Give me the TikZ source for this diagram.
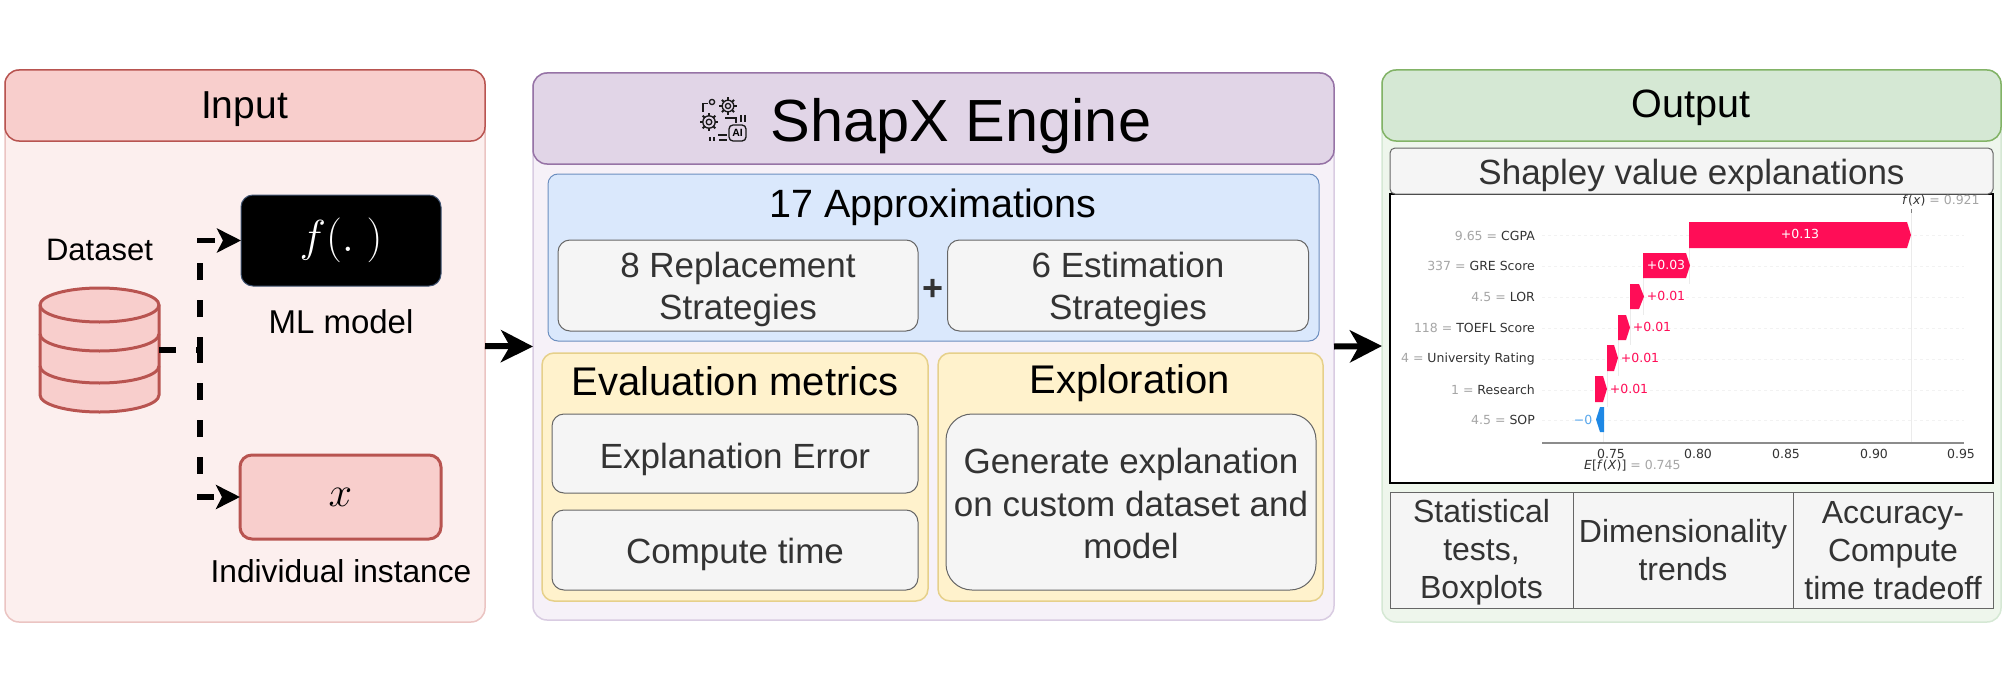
\documentclass[tikz,border=0pt]{standalone}
\usepackage[no-math]{fontspec}
\setmainfont{Liberation Sans}
\newfontfamily\plotfont{DejaVu Sans}
\usetikzlibrary{arrows.meta}
\definecolor{inBody}{HTML}{FCEFEE}
\definecolor{inLine}{HTML}{EBC4C2}
\definecolor{inHead}{HTML}{F8CECC}
\definecolor{inStroke}{HTML}{B85450}
\definecolor{enBody}{HTML}{F6F1F8}
\definecolor{enLine}{HTML}{D9CCE2}
\definecolor{enHead}{HTML}{E1D5E7}
\definecolor{enStroke}{HTML}{9673A6}
\definecolor{blFill}{HTML}{DAE8FC}
\definecolor{blStroke}{HTML}{6C8EBF}
\definecolor{yeFill}{HTML}{FFF2CC}
\definecolor{yeStroke}{HTML}{E6D08A}
\definecolor{grFill}{HTML}{F5F5F5}
\definecolor{grStroke}{HTML}{666666}
\definecolor{ouBody}{HTML}{EEF6EC}
\definecolor{ouLine}{HTML}{D5E8D4}
\definecolor{ouHead}{HTML}{D5E8D4}
\definecolor{ouStroke}{HTML}{82B366}
\definecolor{shapRed}{HTML}{FF0D57}
\definecolor{shapBlue}{HTML}{1E88E5}
\definecolor{txtGray}{HTML}{333333}
\tikzset{
  x=1pt,y=-1pt,
  basebox/.style={rectangle,anchor=north west,inner sep=0pt,outer sep=0pt,align=center,rounded corners=14pt},
  panelin/.style={basebox,draw=inLine,fill=inBody,line width=1.5pt},
  headin/.style={basebox,draw=inStroke,fill=inHead,line width=1.5pt},
  panelen/.style={basebox,draw=enLine,fill=enBody,line width=1.5pt},
  headen/.style={basebox,draw=enStroke,fill=enHead,line width=1.5pt},
  panelou/.style={basebox,draw=ouLine,fill=ouBody,line width=1.5pt},
  headou/.style={basebox,draw=ouStroke,fill=ouHead,line width=1.5pt},
  bluebox/.style={basebox,draw=blStroke,fill=blFill,line width=1pt,rounded corners=10pt},
  yelbox/.style={basebox,draw=yeStroke,fill=yeFill,line width=1.5pt,rounded corners=12pt},
  graybox/.style={basebox,draw=grStroke,fill=grFill,line width=1pt,rounded corners=12pt},
  cell/.style={basebox,rounded corners=0pt,draw=grStroke,fill=grFill,line width=1pt},
  lbl/.style={inner sep=0pt,outer sep=0pt,align=center},
  graytxt/.style={lbl,text=txtGray,font=\fontsize{35}{42}\selectfont},
  celltxt/.style={lbl,text=txtGray,font=\fontsize{32}{38}\selectfont},
  bigarrow/.style={line width=6pt,-{Stealth[length=32pt,width=32pt,inset=9pt]}},
  dasharrow/.style={line width=5.5pt,dash pattern=on 17pt off 20pt,-{Stealth[length=24pt,width=24pt,inset=6pt]}},
  rowlab/.style={inner sep=0pt,anchor=east,font=\plotfont\fontsize{12.5}{15}\selectfont,text=txtGray},
  ticklab/.style={inner sep=0pt,font=\plotfont\fontsize{12.5}{14}\selectfont,text=txtGray},
  val/.style={inner sep=0pt,font=\plotfont\fontsize{12.5}{14}\selectfont},
  icon/.style={draw=black!90,line width=1.3pt},
}
\begin{document}
\begin{tikzpicture}
\useasboundingbox (0,0) rectangle (2004,690);
\fill[white] (0,0) rectangle (2004,690);

% Input panel
\node[panelin,minimum width=480pt,minimum height=552pt] (inp) at (5,70) {};
\node[headin,minimum width=480pt,minimum height=71pt] (inph) at (5,70) {};
\node[lbl,font=\fontsize{39}{46}\selectfont] (inpt) at (244.5,109) {Input};
\node[lbl,font=\fontsize{31}{37}\selectfont] (dslab) at (99.5,250) {Dataset};
\node[rectangle,inner sep=0pt,outer sep=0pt,minimum width=119pt,minimum height=124pt] (db) at (99.5,350) {};
\draw[inStroke,line width=3pt,fill=inHead]
  (40,305) arc[x radius=59.5,y radius=17,start angle=180,end angle=360]
  -- (159,395) arc[x radius=59.5,y radius=17,start angle=0,end angle=180] -- cycle;
\draw[inStroke,line width=3pt] (40,305) arc[x radius=59.5,y radius=17,start angle=180,end angle=0];
\draw[inStroke,line width=3pt] (40,334) arc[x radius=59.5,y radius=17,start angle=180,end angle=0];
\draw[inStroke,line width=3pt] (40,366) arc[x radius=59.5,y radius=17,start angle=180,end angle=0];
\node[basebox,fill=black,draw=blStroke!60!black,line width=1pt,text=white,minimum width=200pt,minimum height=91pt,rounded corners=12pt] (fbox) at (241,195) {\scalebox{1.8}{\Huge $f(.\ )$}};
\node[lbl,font=\fontsize{33}{38}\selectfont] (mllab) at (341,322) {ML model};
\node[basebox,fill=inHead,draw=inStroke,line width=3pt,minimum width=201pt,minimum height=84pt,rounded corners=12pt] (xbox) at (240,455) {\scalebox{1.7}{\Huge $x$}};
\node[lbl,font=\fontsize{31.7}{38}\selectfont] (inslab) at (341,571.5) {Individual instance};
\coordinate (jn) at (200,350);
\draw[dasharrow] (db.east) -- (jn) |- (fbox.west);
\draw[dasharrow] (db.east) -- (jn) |- (xbox.west);

% Engine panel
\node[panelen,minimum width=801pt,minimum height=547pt] (eng) at (533,73) {};
\node[headen,minimum width=801pt,minimum height=91pt] (engh) at (533,73) {};
\node[lbl,anchor=base,font=\fontsize{59.5}{66}\selectfont] (engt) at (961,142) {ShapX Engine};
% icon
\foreach \cx/\cy/\r in {709/122/6.2,728/106/5.8}{
  \draw[icon] (\cx,\cy) circle[radius=\r];
  \draw[icon] (\cx,\cy) circle[radius=\r*0.45];
  \foreach \a in {0,45,...,315}{
    \draw[icon,line width=2pt] ({\cx+\r*cos(\a)},{\cy+\r*sin(\a)}) -- ({\cx+(\r+2.8)*cos(\a)},{\cy+(\r+2.8)*sin(\a)});
  }
}
\draw[icon] (712,102) circle[radius=2.6];
\draw[icon] (703,112) -- (703,103.5) -- (708,103.5);
\draw[icon] (725,118) -- (736,118) -- (736,123);
\draw[icon] (741,115) -- (741,122);
\draw[icon] (745,115) -- (745,122);
\draw[icon,rounded corners=4pt] (729,125) rectangle (746,141);
\node[inner sep=0pt,font=\fontsize{10.5}{10}\selectfont\bfseries] (ailab) at (737.5,133) {AI};
\draw[icon] (710,137) -- (710,141);
\draw[icon] (714,137) -- (714,141);
\draw[icon] (718,135) -- (727,135);
\draw[icon] (719,140) -- (727,140);

\node[bluebox,minimum width=771pt,minimum height=167pt] (blue) at (548,174) {};
\node[lbl,font=\fontsize{39.5}{46}\selectfont] (apx) at (933,207.5) {17 Approximations};
\node[graybox,minimum width=360pt,minimum height=91pt] (rep) at (558,240) {};
\node[graytxt] (rept) at ([yshift=-4pt]rep.center) {8 Replacement\\Strategies};
\node[graybox,minimum width=361pt,minimum height=91pt] (est) at (947.5,240) {};
\node[graytxt] (estt) at ([yshift=-4pt]est.center) {6 Estimation\\Strategies};
\node[lbl,font=\bfseries\fontsize{36}{42}\selectfont,text=txtGray] (plus) at (933,290) {+};
\node[yelbox,minimum width=386pt,minimum height=248pt] (evalb) at (542,353) {};
\node[lbl,font=\fontsize{40}{46}\selectfont] (evalt) at (735,381) {Evaluation metrics};
\node[graybox,minimum width=366pt,minimum height=79pt] (err) at (552,414) {};
\node[graytxt] (errt) at ([yshift=-5.5pt]err.center) {Explanation Error};
\node[graybox,minimum width=366pt,minimum height=80pt] (ctime) at (552,510) {};
\node[graytxt] (ctimet) at ([yshift=-4pt]ctime.center) {Compute time};
\node[yelbox,minimum width=385pt,minimum height=248pt] (expl) at (938,353) {};
\node[lbl,font=\fontsize{40}{46}\selectfont] (explt) at (1130,383) {Exploration};
\node[graybox,minimum width=370pt,minimum height=176pt,rounded corners=26pt] (gen) at (946,414) {};
\node[graytxt,font=\fontsize{35}{42.5}\selectfont] (gent) at ([yshift=-1.5pt]gen.center) {Generate explanation\\on custom dataset and\\model};

% Output panel
\node[panelou,minimum width=619pt,minimum height=552pt] (out) at (1382,70) {};
\node[headou,minimum width=619pt,minimum height=71pt] (outh) at (1382,70) {};
\node[lbl,font=\fontsize{39.5}{46}\selectfont] (outt) at (1691,108) {Output};
\node[basebox,rounded corners=0pt,fill=white,draw=black,line width=1.2pt,minimum width=603pt,minimum height=289pt] (plot) at (1390,194) {};
\node[graybox,rounded corners=5pt,minimum width=603pt,minimum height=46pt] (shap) at (1390,148) {};
\node[graytxt] (shapt) at ([yshift=-4pt]shap.center) {Shapley value explanations};

% waterfall plot
\foreach \yy in {235,266,297,328,359,390,420}{
  \draw[black!5,line width=.8pt,dashed] (1542,\yy) -- (1964,\yy);
}
\draw[black!8,line width=.8pt] (1911,212) -- (1911,443);
\draw[black!8,line width=.8pt] (1603,432) -- (1603,443);
\draw[black!8,line width=.8pt] (1689.5,248) -- (1689.5,284);
\draw[black!8,line width=.8pt] (1643.5,278) -- (1643.5,315);
\draw[black!8,line width=.8pt] (1630,309) -- (1630,345);
\draw[black!8,line width=.8pt] (1618,340) -- (1618,376);
\draw[black!8,line width=.8pt] (1607,371) -- (1607,407);
\draw[black!50,line width=.8pt] (1911,209) -- (1911,213);
\fill[shapRed] (1689,222) -- (1907,222) -- (1911,235) -- (1907,248) -- (1689,248) -- cycle;
\fill[shapRed] (1643,253) -- (1686,253) -- (1690,265.5) -- (1686,278) -- (1643,278) -- cycle;
\fill[shapRed] (1630,284) -- (1639,284) -- (1644,296.5) -- (1639,309) -- (1630,309) -- cycle;
\fill[shapRed] (1618,315) -- (1626,315) -- (1630,327.5) -- (1626,340) -- (1618,340) -- cycle;
\fill[shapRed] (1607,345) -- (1614,345) -- (1618,358) -- (1614,371) -- (1607,371) -- cycle;
\fill[shapRed] (1595,376) -- (1603,376) -- (1607,389) -- (1603,402) -- (1595,402) -- cycle;
\fill[shapBlue] (1604,407) -- (1600,407) -- (1596,419.5) -- (1600,432) -- (1604,432) -- cycle;
\node[rowlab] (r1) at (1535,235.5) {{\color{black!35}9.65 =} CGPA};
\node[rowlab] (r2) at (1535,266) {{\color{black!35}337 =} GRE Score};
\node[rowlab] (r3) at (1535,297) {{\color{black!35}4.5 =} LOR};
\node[rowlab] (r4) at (1535,328) {{\color{black!35}118 =} TOEFL Score};
\node[rowlab] (r5) at (1535,359) {{\color{black!35}4 =} University Rating};
\node[rowlab] (r6) at (1535,390) {{\color{black!35}1 =} Research};
\node[rowlab] (r7) at (1535,420) {{\color{black!35}4.5 =} SOP};
\node[val,text=white] (v1) at (1800,234) {+0.13};
\node[val,text=white] (v2) at (1666,265) {+0.03};
\node[val,text=shapRed] (v3) at (1666,296) {+0.01};
\node[val,text=shapRed] (v4) at (1652,327) {+0.01};
\node[val,text=shapRed] (v5) at (1640,358) {+0.01};
\node[val,text=shapRed] (v6) at (1629,389) {+0.01};
\node[val,text=shapBlue!75] (v7) at (1583,420) {−0};
\draw[black!45,line width=1.4pt] (1542,443) -- (1964,443);
\foreach \xx/\nm in {1611/0.75,1698/0.80,1786/0.85,1874/0.90,1961/0.95}{
  \node[ticklab] at (\xx,454) {\nm};
}
\node[ticklab,anchor=west] (efx) at (1584,466) {\textit{E}[\textit{f}(\textit{X})] {\color{black!35}= 0.745}};
\node[ticklab,anchor=west] (fxv) at (1902,201) {\textit{f}(\textit{x}) {\color{black!35}= 0.921}};

% table
\node[cell,minimum width=183pt,minimum height=116pt] (c1) at (1390,492) {};
\node[celltxt] (c1t) at ([yshift=-2.5pt]c1.center) {Statistical\\tests,\\Boxplots};
\node[cell,minimum width=220pt,minimum height=116pt] (c2) at (1573,492) {};
\node[celltxt] (c2t) at (c2.center) {Dimensionality\\trends};
\node[cell,minimum width=200pt,minimum height=116pt] (c3) at (1793,492) {};
\node[celltxt] (c3t) at ([yshift=-1pt]c3.center) {Accuracy-\\Compute\\time tradeoff};

% main arrows
\draw[bigarrow] (inp.east) -- (eng.west);
\draw[bigarrow] (eng.east) -- (out.west);
\end{tikzpicture}
\end{document}
